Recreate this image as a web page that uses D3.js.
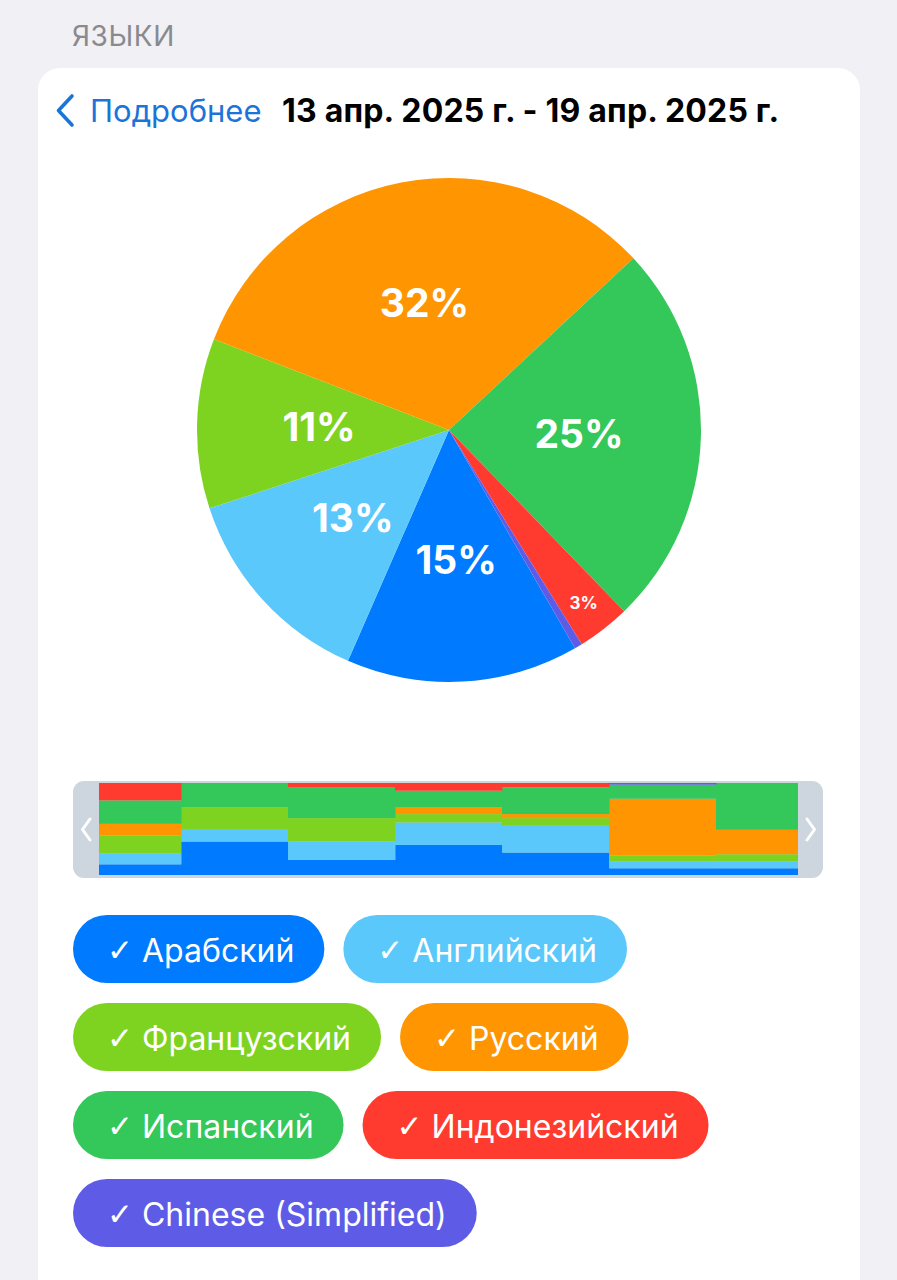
<!DOCTYPE html>
<html>
<head>
<meta charset="utf-8">
<script src="https://cdn.jsdelivr.net/npm/d3@7/dist/d3.min.js"></script>
<style>
  html, body { margin: 0; padding: 0; background: #f0f0f5; }
  svg { display: block; }
  text { font-family: Inter, "Noto Sans", "DejaVu Sans", sans-serif; }
</style>
</head>
<body>
<svg id="chart" width="897" height="1280"></svg>
<script>
// ---------- DATA ----------
const sectionTitle = "ЯЗЫКИ";
const backLabel = "Подробнее";
const periodLabel = "13 апр. 2025 г. - 19 апр. 2025 г.";

const languages = ["Арабский", "Английский", "Французский", "Русский", "Испанский", "Индонезийский", "Chinese (Simplified)"];
const colors    = ["#007aff", "#5ac8fa", "#7ed321", "#ff9500", "#34c759", "#ff3b30", "#5e5ce6"];
// share of total for the week (%)
const shares    = [14.9, 13.4, 10.9, 32.2, 24.7, 3.4, 0.5];

// daily breakdown (%, each day sums to 100)
const days = ["13 апр.", "14 апр.", "15 апр.", "16 апр.", "17 апр.", "18 апр.", "19 апр."];
const dailyArabic     = [11.6, 36.4, 16.4, 32.7, 24.4, 7.3, 7.3];
const dailyEnglish    = [12.0, 12.7, 20.0, 24.4, 29.1, 7.3, 7.3];
const dailyFrench     = [19.3, 24.7, 25.5, 9.1, 8.4, 6.5, 8.0];
const dailyRussian    = [12.7, 0, 0, 7.6, 4.4, 61.8, 26.5];
const dailySpanish    = [25.5, 26.2, 33.8, 17.8, 29.1, 15.3, 50.9];
const dailyIndonesian = [18.9, 0, 4.4, 8.4, 4.7, 0, 0];
const dailyChinese    = [0, 0, 0, 0, 0, 1.8, 0];
const dailySeries = [dailyArabic, dailyEnglish, dailyFrench, dailyRussian, dailySpanish, dailyIndonesian, dailyChinese];

// ---------- DRAW ----------
const svg = d3.select("#chart");

svg.append("text").attr("x", 72).attr("y", 46)
  .attr("font-size", 28).attr("fill", "#8a8a8e").attr("letter-spacing", 0.6)
  .text(sectionTitle);

svg.append("rect").attr("x", 38).attr("y", 68).attr("width", 822).attr("height", 1300)
  .attr("rx", 22).attr("fill", "#ffffff");

// header
svg.append("path").attr("d", "M72,96 L58.5,110.5 L72,125")
  .attr("fill", "none").attr("stroke", "#1b74d8").attr("stroke-width", 3.6)
  .attr("stroke-linecap", "round").attr("stroke-linejoin", "round");
svg.append("text").attr("x", 90).attr("y", 122)
  .attr("font-size", 31).attr("fill", "#1b74d8").text(backLabel);
svg.append("text").attr("x", 282).attr("y", 122)
  .attr("font-size", 32).attr("font-weight", 700).attr("fill", "#000")
  .attr("letter-spacing", 0.2).text(periodLabel);

// pie
const cx = 449, cy = 430, R = 252;
const total = d3.sum(shares);
const pieData = languages.map((name, i) => ({ name, value: shares[i], color: colors[i] }));
const pie = d3.pie().value(d => d.value).sort(null).startAngle(150 * Math.PI / 180).endAngle(510 * Math.PI / 180);
const arcs = pie(pieData);
const arc = d3.arc().innerRadius(0).outerRadius(R);
const g = svg.append("g").attr("transform", `translate(${cx},${cy})`);
g.selectAll("path.slice").data(arcs).join("path")
  .attr("class", "slice").attr("d", arc).attr("fill", d => d.data.color);

const labelArcBig = d3.arc().innerRadius(130).outerRadius(130);
const labelArcSmall = d3.arc().innerRadius(219).outerRadius(219);
g.selectAll("text.pct").data(arcs.filter(d => d.data.value / total >= 0.01)).join("text")
  .attr("class", "pct")
  .each(function(d) {
    const small = d.data.value / total < 0.05;
    const p = (small ? labelArcSmall : labelArcBig).centroid(d);
    d3.select(this).attr("x", p[0]).attr("y", p[1])
      .attr("font-size", small ? 17 : 39);
  })
  .attr("text-anchor", "middle").attr("dominant-baseline", "central")
  .attr("font-weight", 700).attr("fill", "#fff")
  .text(d => Math.round(d.data.value / total * 100) + "%");

// mini stacked chart
const mini = { x: 73, y: 781, w: 750, h: 97, inL: 99, inR: 798, inT: 783, inB: 875 };
svg.append("rect").attr("x", mini.x).attr("y", mini.y).attr("width", mini.w).attr("height", mini.h)
  .attr("rx", 11).attr("fill", "#cdd5df");
svg.append("clipPath").attr("id", "miniClip").append("rect")
  .attr("x", mini.inL).attr("y", mini.inT).attr("width", mini.inR - mini.inL).attr("height", mini.inB - mini.inT);

const table = days.map((day, j) => {
  const row = { day };
  languages.forEach((l, i) => { row[l] = dailySeries[i][j]; });
  return row;
});
const stack = d3.stack().keys(languages).offset(d3.stackOffsetExpand);
const stacked = stack(table);
const xB = d3.scaleBand().domain(days).range([mini.x + 1, mini.x + mini.w]).padding(0);
const yM = d3.scaleLinear().domain([0, 1]).range([mini.inB, mini.inT]);
const mg = svg.append("g").attr("clip-path", "url(#miniClip)");
mg.selectAll("g.layer").data(stacked).join("g")
  .attr("class", "layer").attr("fill", (d, i) => colors[i])
  .selectAll("rect").data(d => d).join("rect")
  .attr("x", d => xB(d.data.day)).attr("width", xB.bandwidth() + 0.5)
  .attr("y", d => yM(d[1])).attr("height", d => Math.max(0, yM(d[0]) - yM(d[1])));

svg.append("path").attr("d", "M90,819 L82.5,829.5 L90,840")
  .attr("fill", "none").attr("stroke", "#fff").attr("stroke-width", 3)
  .attr("stroke-linecap", "round").attr("stroke-linejoin", "round");
svg.append("path").attr("d", "M807,819 L814.5,829.5 L807,840")
  .attr("fill", "none").attr("stroke", "#fff").attr("stroke-width", 3)
  .attr("stroke-linecap", "round").attr("stroke-linejoin", "round");

// legend pills (flow layout)
const pillH = 68, gapX = 19, rowStep = 88, padL = 34, padR = 30;
const left = 73, right = 823;
let px = left, py = 915;
languages.forEach((name, i) => {
  const grp = svg.append("g");
  const t = grp.append("text").attr("font-size", 32).attr("fill", "#fff")
    .attr("dominant-baseline", "central");
  t.append("tspan").attr("font-family", "'DejaVu Sans', sans-serif")
    .attr("font-weight", 700).attr("font-size", 31).text("✓");
  t.append("tspan").text(" " + name);
  const w = t.node().getComputedTextLength() + padL + padR;
  if (px + w > right && px > left) { px = left; py += rowStep; }
  grp.insert("rect", "text").attr("x", px).attr("y", py).attr("width", w).attr("height", pillH)
    .attr("rx", pillH / 2).attr("fill", colors[i]);
  t.attr("x", px + padL).attr("y", py + pillH / 2 + 1);
  px += w + gapX;
});
</script>
</body>
</html>
